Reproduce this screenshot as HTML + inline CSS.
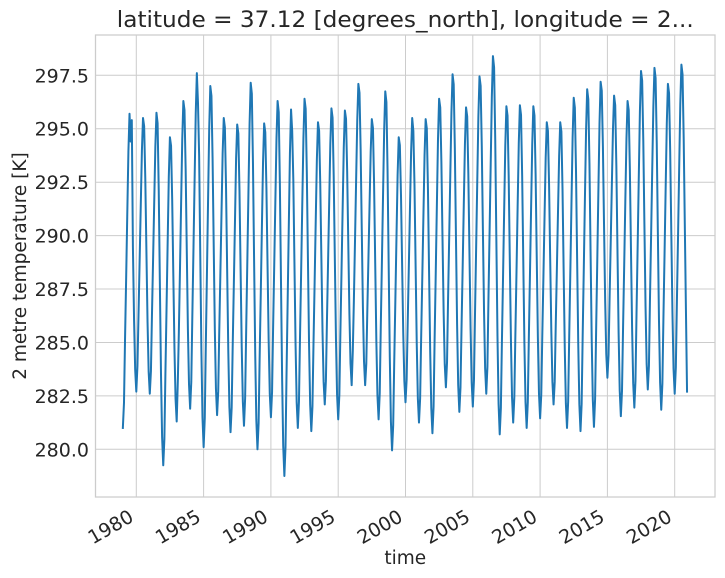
<!DOCTYPE html>
<html>
<head>
<meta charset="utf-8">
<style>
  html, body { margin:0; padding:0; background:#ffffff; }
  svg { display:block; }
  text { font-family: "DejaVu Sans", "Liberation Sans", sans-serif; fill:#262626; }
</style>
</head>
<body>
<svg id="chart" width="725" height="578" viewBox="0 0 725 578" xmlns="http://www.w3.org/2000/svg">
  <rect x="0" y="0" width="725" height="578" fill="#ffffff"/>
  <g stroke="#cccccc" stroke-width="1" fill="none">
    <line x1="95.5" x2="715" y1="449.3" y2="449.3"/>
    <line x1="95.5" x2="715" y1="395.9" y2="395.9"/>
    <line x1="95.5" x2="715" y1="342.5" y2="342.5"/>
    <line x1="95.5" x2="715" y1="289.0" y2="289.0"/>
    <line x1="95.5" x2="715" y1="235.6" y2="235.6"/>
    <line x1="95.5" x2="715" y1="182.2" y2="182.2"/>
    <line x1="95.5" x2="715" y1="128.7" y2="128.7"/>
    <line x1="95.5" x2="715" y1="75.3" y2="75.3"/>
    <line y1="35" y2="497" x1="136.3" x2="136.3"/>
    <line y1="35" y2="497" x1="203.6" x2="203.6"/>
    <line y1="35" y2="497" x1="270.9" x2="270.9"/>
    <line y1="35" y2="497" x1="338.2" x2="338.2"/>
    <line y1="35" y2="497" x1="405.5" x2="405.5"/>
    <line y1="35" y2="497" x1="472.8" x2="472.8"/>
    <line y1="35" y2="497" x1="540.1" x2="540.1"/>
    <line y1="35" y2="497" x1="607.4" x2="607.4"/>
    <line y1="35" y2="497" x1="674.7" x2="674.7"/>
  </g>
  <rect x="95.5" y="35" width="619.5" height="462" fill="none" stroke="#cccccc" stroke-width="1.25"/>

  <polyline id="series" fill="none" stroke="#1f77b4" stroke-width="2" stroke-linejoin="round" stroke-linecap="square" points=""/>

  <g font-size="19" text-anchor="end">
    <text x="89" y="456.3">280.0</text>
    <text x="89" y="402.9">282.5</text>
    <text x="89" y="349.5">285.0</text>
    <text x="89" y="296.0">287.5</text>
    <text x="89" y="242.6">290.0</text>
    <text x="89" y="189.2">292.5</text>
    <text x="89" y="135.7">295.0</text>
    <text x="89" y="82.3">297.5</text>
  </g>

  <g font-size="19" text-anchor="end">
    <text transform="translate(134.8,520.5) rotate(-30)">1980</text>
    <text transform="translate(202.1,520.5) rotate(-30)">1985</text>
    <text transform="translate(269.4,520.5) rotate(-30)">1990</text>
    <text transform="translate(336.7,520.5) rotate(-30)">1995</text>
    <text transform="translate(404.0,520.5) rotate(-30)">2000</text>
    <text transform="translate(471.3,520.5) rotate(-30)">2005</text>
    <text transform="translate(538.6,520.5) rotate(-30)">2010</text>
    <text transform="translate(605.9,520.5) rotate(-30)">2015</text>
    <text transform="translate(673.2,520.5) rotate(-30)">2020</text>
  </g>

  <text x="405.3" y="564" font-size="18.5" text-anchor="middle">time</text>
  <text transform="translate(26,266) rotate(-90)" font-size="18.5" text-anchor="middle">2 metre temperature [K]</text>

  <text x="405.3" y="27" font-size="22" text-anchor="middle" textLength="577" lengthAdjust="spacingAndGlyphs">latitude = 37.12 [degrees_north], longitude = 2...</text>
</svg>
<script>
(function(){
  var T=[281.0,282.7,282.6,279.25,281.3,281.9,280.1,281.6,280.8,281.1,280.0,281.5,278.75,281.0,280.85,282.1,281.4,283.0,283.0,281.4,279.95,282.2,281.25,280.75,282.9,281.75,282.0,282.6,280.7,281.25,281.0,281.45,282.1,281.0,280.85,281.05,283.35,281.55,281.95,282.8,281.85,282.6];
  var P=[295.7,295.5,295.75,294.6,296.3,297.6,297.0,295.5,295.2,297.15,295.25,296.3,295.9,296.4,295.3,295.95,295.85,297.1,295.45,296.75,294.6,295.5,295.45,296.4,297.55,296.0,297.45,298.4,296.05,296.1,296.05,295.3,295.3,296.45,296.85,297.2,296.55,296.3,297.7,297.85,297.1,298.0];
  var f=[0,0.08,0.28,0.48,0.68,0.88,1,0.97,0.78,0.52,0.26,0.08];
  var base=Date.UTC(1980,0,1);
  var over={};
  // a few hand-read irregularities: key = year*12+month
  over[0*12+7]=294.4; over[0*12+8]=295.4;
  over[1*12+1]=283.9;
  over[5*12+7]=296.2;
  over[8*12+5]=293.6;
  over[12*12+7]=294.9;
  over[4*12+1]=283.2;
  over[17*12+1]=284.6;
  over[21*12+7]=294.9;
  over[31*12+7]=294.9;
  over[39*12+1]=283.9;
  var pts=[];
  for(var y=0;y<42;y++){
    var next = y<41 ? T[y+1] : 282.5;
    for(var m=0;m<12;m++){
      var v;
      if(m<=6) v=T[y]+(P[y]-T[y])*f[m];
      else v=next+(P[y]-next)*f[m];
      var k=y*12+m;
      if(over[k]!==undefined) v=over[k];
      if(y==41 && m==11) v=282.7;
      var d=(Date.UTC(1979+y,m,1)-base)/86400000;
      var x=136.3+d*0.036851;
      var py=75.3+(297.5-v)*21.37;
      pts.push(x.toFixed(2)+","+py.toFixed(2));
    }
  }
  document.getElementById("series").setAttribute("points",pts.join(" "));
})();
</script>
</body>
</html>
